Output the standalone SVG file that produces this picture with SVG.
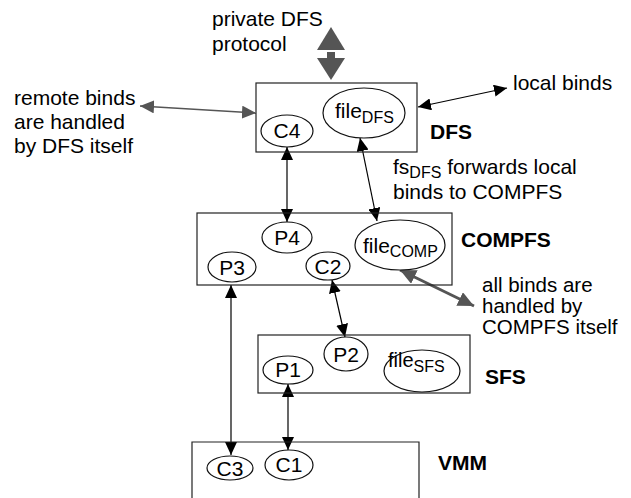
<svg xmlns="http://www.w3.org/2000/svg" width="631" height="498" viewBox="0 0 631 498">
<defs>
<style>
.box{fill:none;stroke:#222;stroke-width:1.2}
.el{fill:#fff;stroke:#111;stroke-width:1.2}
.t{font-family:"Liberation Sans",Arial,sans-serif;font-size:21px;fill:#000}
.n{font-family:"Liberation Sans",Arial,sans-serif;font-size:21px;fill:#000;text-anchor:middle}
.b{font-family:"Liberation Sans",Arial,sans-serif;font-size:21px;font-weight:bold;fill:#000}
.sub{font-size:16px}
.blk{stroke:#000;stroke-width:1.2;fill:none;marker-start:url(#hb);marker-end:url(#hb)}
.gry{stroke:#555;stroke-width:1.5;fill:none;marker-start:url(#hg);marker-end:url(#hg)}
.gry2{stroke:#555;stroke-width:3;fill:none;marker-start:url(#hg2);marker-end:url(#hg2)}
</style>
<marker id="hb" markerUnits="userSpaceOnUse" markerWidth="13" markerHeight="12" refX="13" refY="6" orient="auto-start-reverse"><path d="M0,0 L13,6 L0,12 z" fill="#000"/></marker>
<marker id="hg" markerUnits="userSpaceOnUse" markerWidth="14" markerHeight="13" refX="14" refY="6.5" orient="auto-start-reverse"><path d="M0,0 L14,6.5 L0,13 z" fill="#555"/></marker>
<marker id="hg2" markerUnits="userSpaceOnUse" markerWidth="16" markerHeight="15" refX="16" refY="7.5" orient="auto-start-reverse"><path d="M0,0 L16,7.5 L0,15 z" fill="#555"/></marker>
</defs>
<rect width="631" height="498" fill="#fff"/>

<g id="connectors">
<line class="gry" x1="140" y1="106" x2="256" y2="113"/>
<line class="blk" x1="418" y1="107" x2="507" y2="88"/>
<line class="blk" x1="287" y1="147" x2="287" y2="222"/>
<line class="blk" x1="360" y1="138" x2="377" y2="221"/>
<line class="gry2" x1="400" y1="270" x2="474" y2="306"/>
<line class="blk" x1="332" y1="280" x2="345" y2="337"/>
<line class="blk" x1="231" y1="285" x2="231" y2="455"/>
<line class="blk" x1="288" y1="384" x2="288" y2="450"/>
<g id="private-protocol" fill="#555">
<polygon points="331,27 345,50 317,50"/>
<rect x="327" y="52" width="8" height="6"/>
<polygon points="317,58 345,58 331,80"/>
</g>
</g>

<g id="annotations">
<text class="t" x="212" y="26">private DFS</text>
<text class="t" x="212" y="51">protocol</text>
<text class="t" x="14" y="105">remote binds</text>
<text class="t" x="14" y="129">are handled</text>
<text class="t" x="14" y="153">by DFS itself</text>
<text class="t" x="513" y="90">local binds</text>
<text class="t" x="393" y="174">fs<tspan class="sub" dy="4">DFS</tspan><tspan dy="-4"> forwards local</tspan></text>
<text class="t" x="393" y="199">binds to COMPFS</text>
<text class="t" x="482" y="292" style="font-size:20.5px">all binds are</text>
<text class="t" x="482" y="313" style="font-size:20.5px">handled by</text>
<text class="t" x="482" y="334" style="font-size:20.5px">COMPFS itself</text>
</g>

<g id="DFS">
<rect class="box" x="256" y="83" width="161" height="69"/>
<text class="b" x="430" y="139">DFS</text>
</g>
<g id="C4"><ellipse class="el" cx="287" cy="131" rx="26" ry="16"/><text class="n" x="287" y="138">C4</text></g>
<g id="fileDFS"><ellipse class="el" cx="364" cy="113" rx="41" ry="25"/><text class="t" x="335" y="118">file<tspan class="sub" dy="5">DFS</tspan></text></g>

<g id="COMPFS">
<rect class="box" x="197" y="213" width="255" height="72"/>
<text class="b" x="461" y="247">COMPFS</text>
</g>
<g id="P4"><ellipse class="el" cx="287" cy="237.5" rx="25" ry="15.5"/><text class="n" x="287" y="245">P4</text></g>
<g id="P3"><ellipse class="el" cx="232" cy="267" rx="24" ry="15"/><text class="n" x="232" y="275">P3</text></g>
<g id="C2"><ellipse class="el" cx="328" cy="266" rx="22" ry="14"/><text class="n" x="328" y="274">C2</text></g>
<g id="fileCOMP"><ellipse class="el" cx="400" cy="245" rx="45" ry="25"/><text class="t" x="363" y="253">file<tspan class="sub" dy="4">COMP</tspan></text></g>

<g id="SFS">
<rect class="box" x="258" y="335" width="212" height="58"/>
<text class="b" x="485" y="384">SFS</text>
</g>
<g id="P2"><ellipse class="el" cx="346" cy="354" rx="22" ry="17"/><text class="n" x="346" y="362">P2</text></g>
<g id="P1"><ellipse class="el" cx="288" cy="370" rx="25" ry="14"/><text class="n" x="288" y="377">P1</text></g>
<g id="fileSFS"><ellipse class="el" cx="422" cy="371" rx="38" ry="21"/><text class="t" x="388" y="367" style="font-size:20px">file<tspan class="sub" dy="5">SFS</tspan></text></g>

<g id="VMM">
<path class="box" d="M192,500 V442 H419 V500"/>
<text class="b" x="438" y="470">VMM</text>
</g>
<g id="C3"><ellipse class="el" cx="230" cy="468" rx="23" ry="12"/><text class="n" x="230" y="476">C3</text></g>
<g id="C1"><ellipse class="el" cx="289" cy="465" rx="24" ry="15"/><text class="n" x="289" y="472">C1</text></g>
</svg>
